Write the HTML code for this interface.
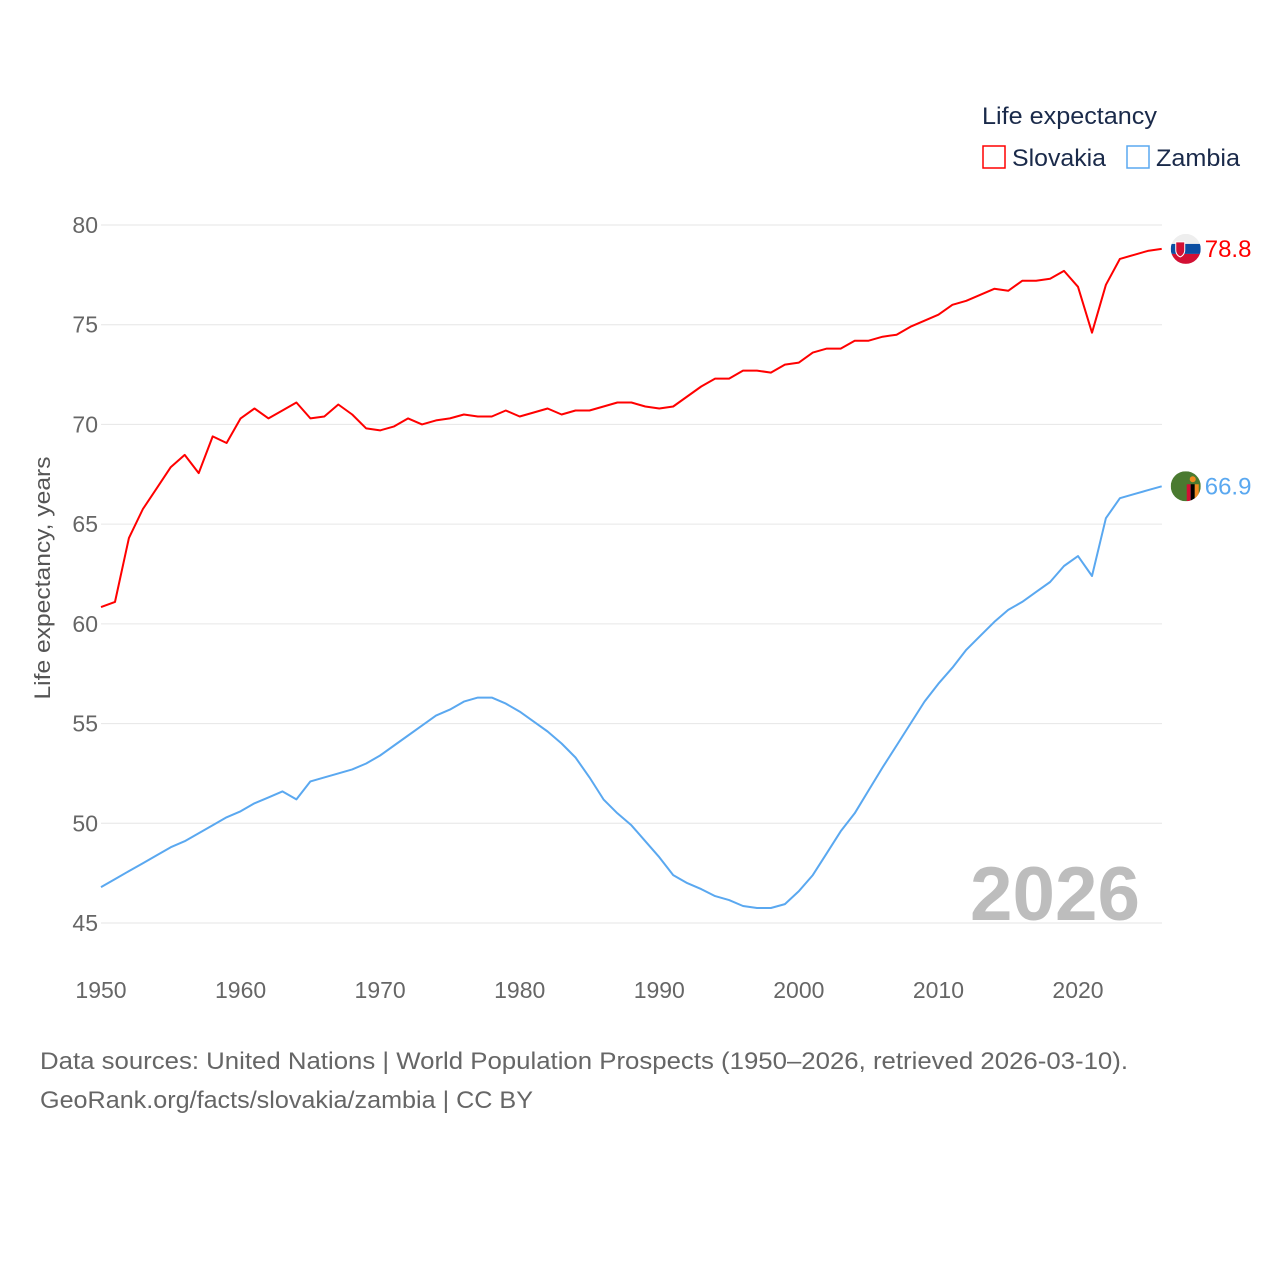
<!DOCTYPE html>
<html><head><meta charset="utf-8"><style>
body{margin:0;background:#fff;font-family:"Liberation Sans",sans-serif;}
svg text{font-family:"Liberation Sans",sans-serif;}
</style></head><body>
<svg id="chart" width="1280" height="1280" xmlns="http://www.w3.org/2000/svg">
<g id="grid"></g>
<g id="yticks"></g>
<g id="xticks"></g>
<text transform="translate(50,578) rotate(-90)" text-anchor="middle" font-size="22" fill="#555" textLength="243" lengthAdjust="spacingAndGlyphs">Life expectancy, years</text>
<text x="970" y="920" font-size="76" font-weight="bold" fill="#bdbdbd" textLength="170" lengthAdjust="spacingAndGlyphs">2026</text>
<g id="series"></g>
<g>
<text x="982" y="124" font-size="24" fill="#1a2a4a" textLength="175" lengthAdjust="spacingAndGlyphs">Life expectancy</text>
<rect x="983" y="146" width="22" height="22" fill="none" stroke="#f00" stroke-width="1.5"/>
<text x="1012" y="166" font-size="24" fill="#1a2a4a" textLength="94" lengthAdjust="spacingAndGlyphs">Slovakia</text>
<rect x="1127" y="146" width="22" height="22" fill="none" stroke="#5aa8f0" stroke-width="1.5"/>
<text x="1156" y="166" font-size="24" fill="#1a2a4a" textLength="84" lengthAdjust="spacingAndGlyphs">Zambia</text>
</g>
<text x="40" y="1069" font-size="24" fill="#666" textLength="1088" lengthAdjust="spacingAndGlyphs">Data sources: United Nations | World Population Prospects (1950–2026, retrieved 2026-03-10).</text>
<text x="40" y="1108" font-size="24" fill="#666" textLength="493" lengthAdjust="spacingAndGlyphs">GeoRank.org/facts/slovakia/zambia | CC BY</text>
</svg>
<script>
const years=[];for(let y=1950;y<=2026;y++)years.push(y);
const slovakia=[60.84,61.1,64.3,65.76,66.8,67.86,68.47,67.56,69.4,69.07,70.3,70.8,70.3,70.7,71.1,70.3,70.4,71.0,70.5,69.8,69.7,69.9,70.3,70.0,70.2,70.3,70.5,70.4,70.4,70.7,70.4,70.6,70.8,70.5,70.7,70.7,70.9,71.1,71.1,70.9,70.8,70.9,71.4,71.9,72.3,72.3,72.7,72.7,72.6,73.0,73.1,73.6,73.8,73.8,74.2,74.2,74.4,74.5,74.9,75.2,75.5,76.0,76.2,76.5,76.8,76.7,77.2,77.2,77.3,77.7,76.9,74.6,77.0,78.3,78.5,78.7,78.8];
const zambia=[46.8,47.2,47.6,48.0,48.4,48.8,49.1,49.5,49.9,50.3,50.6,51.0,51.3,51.6,51.2,52.1,52.3,52.5,52.7,53.0,53.4,53.9,54.4,54.9,55.4,55.7,56.1,56.3,56.3,56.0,55.6,55.1,54.6,54.0,53.3,52.3,51.2,50.5,49.9,49.1,48.3,47.4,47.0,46.7,46.35,46.15,45.85,45.75,45.75,45.95,46.6,47.4,48.5,49.6,50.5,51.65,52.8,53.9,55.0,56.1,57.0,57.8,58.7,59.4,60.1,60.7,61.1,61.6,62.1,62.9,63.4,62.4,65.3,66.3,66.5,66.7,66.9];
const yTicks=[45,50,55,60,65,70,75,80];
const xTicks=[1950,1960,1970,1980,1990,2000,2010,2020];
const NS="http://www.w3.org/2000/svg";
const X=y=>101+(y-1950)*(1078-101)/70;
const Y=v=>923-(v-45)*(923-225)/35;
function mk(tag,attrs,parent,text){const e=document.createElementNS(NS,tag);for(const k in attrs)e.setAttribute(k,attrs[k]);if(text!==undefined)e.textContent=text;parent.appendChild(e);return e;}
const grid=document.getElementById('grid'),yt=document.getElementById('yticks'),xt=document.getElementById('xticks'),ser=document.getElementById('series');
yTicks.forEach(v=>{
 const l=mk('line',{x1:101,x2:1162,y1:Y(v),y2:Y(v),stroke:'#e6e6e6','stroke-width':1},grid);
 
 
 const t=mk('text',{x:98,y:Y(v)+8,'text-anchor':'end','font-size':23,fill:'#666'},yt,String(v));
 
 
});
xTicks.forEach(v=>{
 const t=mk('text',{x:X(v),y:998,'text-anchor':'middle','font-size':23,fill:'#666'},xt,String(v));
 
 
});
function line(vals,color,name){
 const d=vals.map((v,i)=>(i?'L':'M')+X(years[i]).toFixed(1)+','+Y(v).toFixed(1)).join('');
 const p=mk('path',{d:d,fill:'none',stroke:color,'stroke-width':2,'stroke-linejoin':'round'},ser);
 
 
}
line(slovakia,'#ff0000','slovakia');
line(zambia,'#5aa8f0','zambia');
const lx=X(2026);
const sy=Y(slovakia[slovakia.length-1]);
const zy=Y(zambia[zambia.length-1]);
const fg=mk('g',{},ser);


mk('defs',{},fg).innerHTML='<clipPath id="c1"><circle cx="'+(lx+24)+'" cy="'+sy+'" r="15"/></clipPath><clipPath id="c2"><circle cx="'+(lx+24)+'" cy="'+zy+'" r="15"/></clipPath>';
const g1=mk('g',{'clip-path':'url(#c1)'},fg);
mk('rect',{x:lx+9,y:sy-15,width:30,height:10,fill:'#eee'},g1);
mk('rect',{x:lx+9,y:sy-5,width:30,height:10,fill:'#0b4ea2'},g1);
mk('rect',{x:lx+9,y:sy+5,width:30,height:10,fill:'#d21034'},g1);
mk('path',{d:`M${lx+14},${sy-7}h9v8q0,5,-4.5,7q-4.5,-2,-4.5,-7z`,fill:'#d21034',stroke:'#fff','stroke-width':1},g1);
const st=mk('text',{x:lx+43,y:sy+8,'font-size':24,fill:'#ff0000'},ser,slovakia[slovakia.length-1].toFixed(1));


const zg=mk('g',{'clip-path':'url(#c2)'},ser);


mk('rect',{x:lx+9,y:zy-15,width:30,height:30,fill:'#4a7a30'},zg);
mk('rect',{x:lx+25,y:zy-2,width:4,height:17,fill:'#d21034'},zg);
mk('rect',{x:lx+29,y:zy-2,width:4,height:17,fill:'#000'},zg);
mk('rect',{x:lx+33,y:zy-2,width:4,height:17,fill:'#f08a20'},zg);
mk('circle',{cx:lx+31,cy:zy-7,r:3,fill:'#f08a20'},zg);
const zt=mk('text',{x:lx+43,y:zy+8,'font-size':24,fill:'#5aa8f0'},ser,zambia[zambia.length-1].toFixed(1));


</script>
</body></html>
